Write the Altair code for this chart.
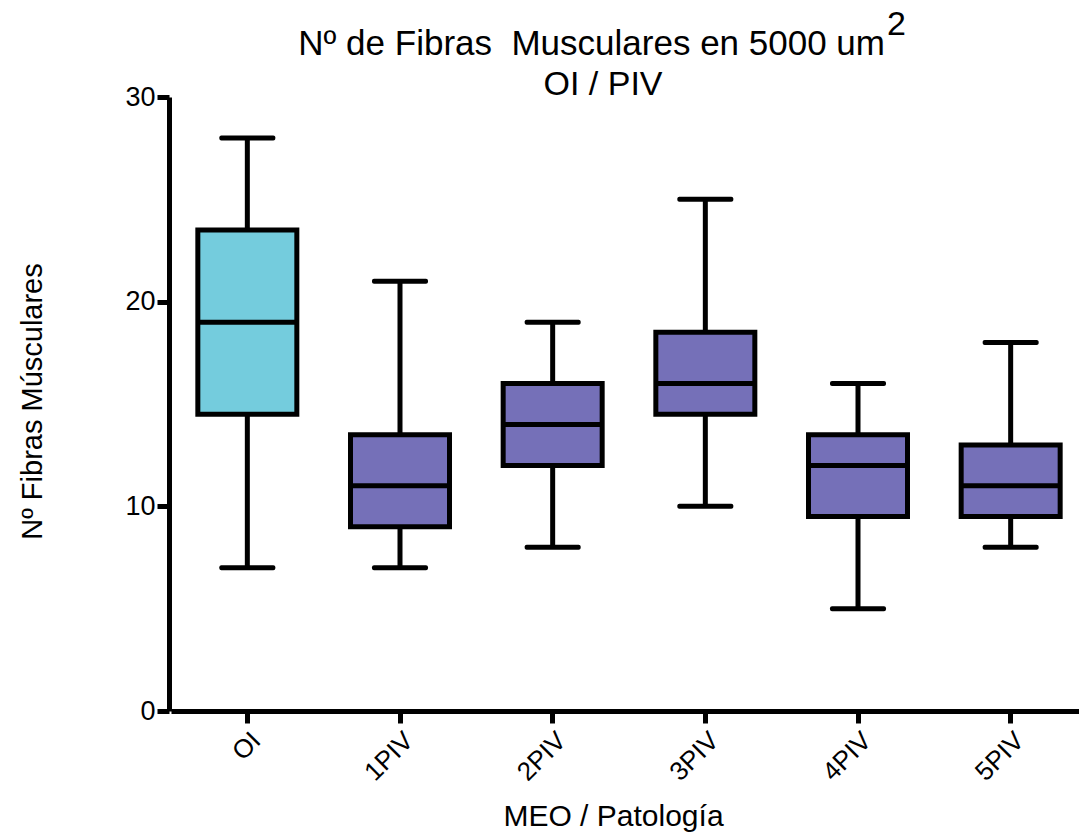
import altair as alt
import pandas as pd

groups = ["OI", "1PIV", "2PIV", "3PIV", "4PIV", "5PIV"]
mins = [7, 7, 8, 10, 5, 8]
q1s = [14.5, 9, 12, 14.5, 9.5, 9.5]
medians = [19, 11, 14, 16, 12, 11]
q3s = [23.5, 13.5, 16, 18.5, 13.5, 13]
maxs = [28, 21, 19, 25, 16, 18]
kinds = ["OI", "PIV", "PIV", "PIV", "PIV", "PIV"]

title_line1 = "Nº de Fibras \u00a0Musculares en 5000 um"
title_sup = "2"
title_line2 = "OI / PIV"
x_title = "MEO / Patología"
y_title = "Nº Fibras Músculares"

df = pd.DataFrame({"g": groups, "lo": mins, "q1": q1s, "med": medians,
                   "q3": q3s, "hi": maxs, "kind": kinds})

FONT = "Liberation Sans"
x = alt.X("g:N", sort=groups, title=x_title,
          scale=alt.Scale(paddingInner=0, paddingOuter=0, range=[2, 918]),
          axis=alt.Axis(labelAngle=-45, labelAlign="right", labelBaseline="top",
                        labelFontSize=26, labelFont=FONT, labelColor="black",
                        labelPadding=4,
                        domainColor="black", domainWidth=5, tickColor="black",
                        tickWidth=5, tickSize=12,
                        titleFontSize=30, titleFont=FONT, titleFontWeight="normal",
                        titleColor="black", titleX=444, titleY=114,
                        titleBaseline="alphabetic", titleAnchor="middle"))
yscale = alt.Scale(domain=[0, 30], nice=False)
yaxis = alt.Axis(values=[0, 10, 20, 30], grid=False, labelFontSize=27, labelFont=FONT,
                 labelColor="black", labelPadding=2,
                 domainColor="black", domainWidth=5, tickColor="black", tickWidth=5,
                 tickSize=12, title=y_title, titleFontSize=29,
                 titleFont=FONT, titleFontWeight="normal", titleColor="black",
                 titleX=-137, titleY=304, titleAngle=-90, titleAlign="center",
                 titleBaseline="middle")
color = alt.Color("kind:N", scale=alt.Scale(domain=["OI", "PIV"],
                                            range=["#74CCDD", "#7570B8"]), legend=None)

base = alt.Chart(df)
whisk = base.mark_rule(color="black", strokeWidth=5).encode(
    x=x, y=alt.Y("lo:Q", scale=yscale, axis=yaxis), y2="hi:Q")
box = base.mark_bar(size=99, stroke="black", strokeWidth=5, opacity=1).encode(
    x=x, y=alt.Y("q1:Q", scale=yscale), y2="q3:Q", color=color)
med = base.mark_tick(size=102, thickness=5, color="black", opacity=1).encode(
    x=x, y=alt.Y("med:Q", scale=yscale))
caplo = base.mark_tick(size=56, thickness=5, color="black", opacity=1,
                       cornerRadius=2).encode(x=x, y=alt.Y("lo:Q", scale=yscale))
caphi = base.mark_tick(size=56, thickness=5, color="black", opacity=1,
                       cornerRadius=2).encode(x=x, y=alt.Y("hi:Q", scale=yscale))

tdf = pd.DataFrame({"t1": [title_line1], "t2": [title_line2], "s": [title_sup]})
tbase = alt.Chart(tdf)
t1 = tbase.mark_text(font=FONT, fontSize=35, color="black", align="right",
                     baseline="alphabetic").encode(
    text="t1:N", x=alt.value(716), y=alt.value(-42))
ts = tbase.mark_text(font=FONT, fontSize=34, color="black", align="left",
                     baseline="alphabetic").encode(
    text="s:N", x=alt.value(718), y=alt.value(-62))
t2 = tbase.mark_text(font=FONT, fontSize=34, color="black", align="center",
                     baseline="alphabetic").encode(
    text="t2:N", x=alt.value(434), y=alt.value(-2))

chart = alt.layer(whisk, box, med, caplo, caphi, t1, ts, t2).properties(
    width=910, height=614,
    autosize=alt.AutoSizeParams(type="none"),
    padding={"left": 169, "top": 97, "right": 0, "bottom": 125},
).configure_view(stroke=None)

chart.save("out.html", embed_options={"renderer": "svg", "actions": False})
